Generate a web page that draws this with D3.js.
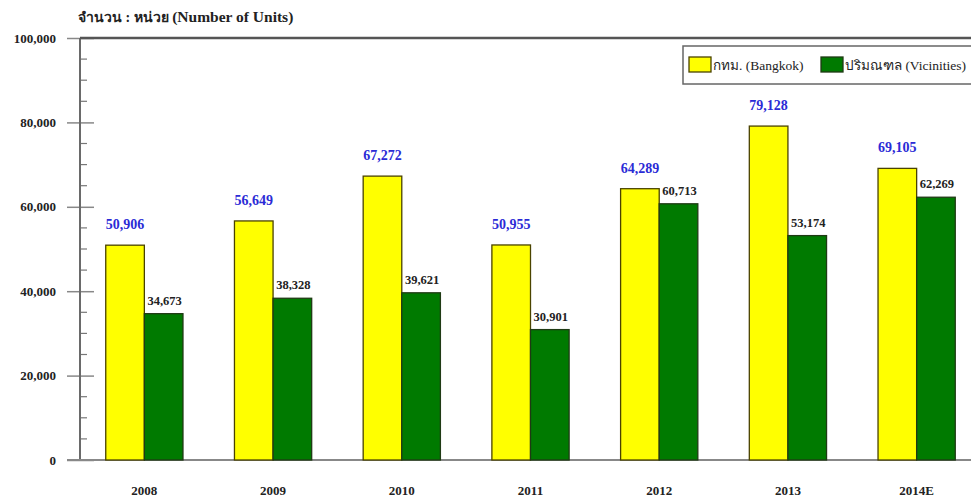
<!DOCTYPE html>
<html>
<head>
<meta charset="utf-8">
<script src="https://cdn.jsdelivr.net/npm/d3@7"></script>
<style>
  html, body { margin: 0; padding: 0; background: #fff; }
  svg { display: block; }
  text { font-family: "Liberation Serif", "Times New Roman", serif; }
</style>
</head>
<body>
<svg id="chart" width="971" height="502"></svg>
<script>
// Housing units, Bangkok vs. vicinities
const years = ["2008", "2009", "2010", "2011", "2012", "2013", "2014E"];
const bangkok = [50906, 56649, 67272, 50955, 64289, 79128, 69105];
const vicinities = [34673, 38328, 39621, 30901, 60713, 53174, 62269];
const yTicks = [0, 20000, 40000, 60000, 80000, 100000];
const seriesNames = ["กทม. (Bangkok)", "ปริมณฑล (Vicinities)"];
const titleThai = "จำนวน : หน่วย ";
const titleEnglish = "(Number of Units)";

const svg = d3.select("#chart");
const plotLeft = 80, plotRight = 981, plotTop = 38, plotBottom = 460;

const x = d3.scaleBand().domain(years).range([plotLeft, plotRight]).paddingInner(0.4).paddingOuter(0.2);
const x1 = d3.scaleBand().domain([0, 1]).range([0, x.bandwidth()]);
const y = d3.scaleLinear().domain([0, 100000]).range([plotBottom, plotTop]);
const fmt = d3.format(",");

const rows = years.map((yr, i) => ({ year: yr, vals: [bangkok[i], vicinities[i]] }));
const fills = ["#ffff00", "#007a00"];
const strokes = ["#4a4300", "#1f3a14"];

// title
const title = svg.append("text").attr("x", 78).attr("y", 22)
  .attr("font-weight", "bold").attr("fill", "#222");
title.append("tspan").attr("font-size", 14).text(titleThai);
title.append("tspan").attr("font-size", 15.5).text(titleEnglish);

// minor ticks
const minor = d3.range(0, 100001, 5000).filter(v => v % 20000 !== 0);
svg.append("g").selectAll("line").data(minor).join("line")
  .attr("x1", plotLeft).attr("x2", plotLeft + 7)
  .attr("y1", d => y(d)).attr("y2", d => y(d))
  .attr("stroke", "#777").attr("stroke-width", 1.2);

// y axis with major ticks crossing the axis line
const yAxis = svg.append("g").attr("transform", `translate(${plotLeft},0)`)
  .call(d3.axisLeft(y).tickValues(yTicks).tickFormat(fmt).tickSize(13).tickPadding(11));
yAxis.select(".domain").remove();
yAxis.selectAll(".tick line").attr("x2", -13).attr("x1", 14).attr("stroke", "#888").attr("stroke-width", 1.5);
yAxis.selectAll(".tick text")
  .attr("font-size", 13).attr("font-weight", "bold").attr("fill", "#222")
  .attr("font-family", "Liberation Serif, serif");

// frame: left axis, top border, baseline
svg.append("line").attr("x1", plotLeft).attr("x2", plotLeft).attr("y1", plotTop).attr("y2", plotBottom)
  .attr("stroke", "#6a6a6a").attr("stroke-width", 2);
svg.append("line").attr("x1", plotLeft).attr("x2", plotRight).attr("y1", plotTop).attr("y2", plotTop)
  .attr("stroke", "#555").attr("stroke-width", 2.5);
svg.append("line").attr("x1", plotLeft - 13).attr("x2", plotRight).attr("y1", plotBottom).attr("y2", plotBottom)
  .attr("stroke", "#888").attr("stroke-width", 2);

// bars
const groups = svg.append("g").selectAll("g").data(rows).join("g")
  .attr("transform", d => `translate(${x(d.year)},0)`);

groups.selectAll("rect").data(d => d.vals.map((v, k) => ({ v, k }))).join("rect")
  .attr("x", d => x1(d.k))
  .attr("y", d => y(d.v))
  .attr("width", x1.bandwidth())
  .attr("height", d => plotBottom - y(d.v))
  .attr("fill", d => fills[d.k])
  .attr("stroke", d => strokes[d.k])
  .attr("stroke-width", 1.3);

// value labels
groups.append("text")
  .attr("x", x1(0) + x1.bandwidth() / 2)
  .attr("y", d => y(d.vals[0]) - 16)
  .attr("text-anchor", "middle")
  .attr("font-size", 14).attr("font-weight", "bold").attr("fill", "#2b2bd6")
  .text(d => fmt(d.vals[0]));

groups.append("text")
  .attr("x", x1(1) + x1.bandwidth() / 2 + 1)
  .attr("y", d => y(d.vals[1]) - 9)
  .attr("text-anchor", "middle")
  .attr("font-size", 12.5).attr("font-weight", "bold").attr("fill", "#222")
  .text(d => fmt(d.vals[1]));

// category labels
svg.append("g").selectAll("text").data(years).join("text")
  .attr("x", d => x(d) + x.bandwidth() / 2)
  .attr("y", 495)
  .attr("text-anchor", "middle")
  .attr("font-size", 13).attr("font-weight", "bold").attr("fill", "#222")
  .text(d => d);

// legend
const lg = svg.append("g");
lg.append("rect").attr("x", 683).attr("y", 46).attr("width", 320).attr("height", 38)
  .attr("fill", "#fff").attr("stroke", "#666").attr("stroke-width", 1.5);
const legendX = [689, 821];
seriesNames.forEach((name, k) => {
  lg.append("rect").attr("x", legendX[k]).attr("y", 57).attr("width", 22).attr("height", 15)
    .attr("fill", fills[k]).attr("stroke", strokes[k]).attr("stroke-width", 1.3);
  lg.append("text").attr("x", legendX[k] + 24).attr("y", 70)
    .attr("font-size", 13.5).attr("fill", "#222")
    .text(name);
});
</script>
</body>
</html>
